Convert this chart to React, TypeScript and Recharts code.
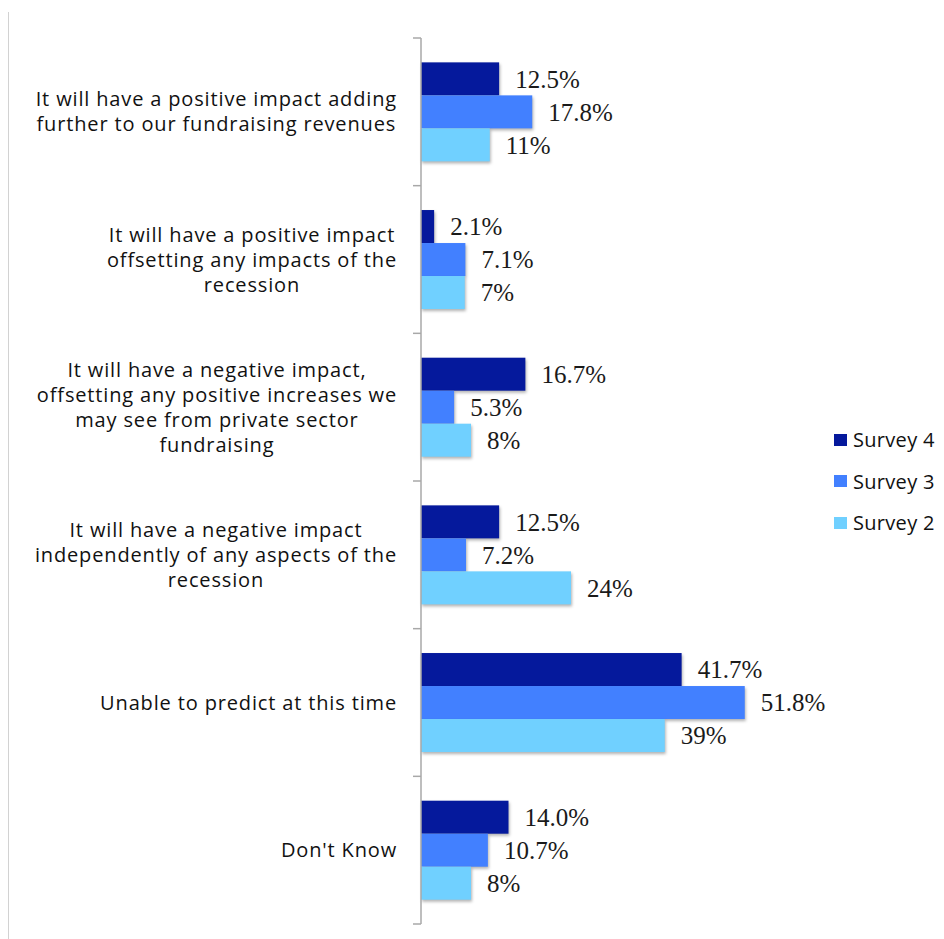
import { BarChart, Bar, XAxis, YAxis, LabelList } from 'recharts';

const categories = [
  ['It will have a positive impact adding', 'further to our fundraising revenues'],
  ['It will have a positive impact', 'offsetting any impacts of the', 'recession'],
  ['It will have a negative impact,', 'offsetting any positive increases we', 'may see from private sector', 'fundraising'],
  ['It will have a negative impact', 'independently of any aspects of the', 'recession'],
  ['Unable to predict at this time'],
  ["Don't Know"],
];
const survey4 = [12.5, 2.1, 16.7, 12.5, 41.7, 14.0];
const survey3 = [17.8, 7.1, 5.3, 7.2, 51.8, 10.7];
const survey2 = [11, 7, 8, 24, 39, 8];

const SERIES = [
  { key: 'survey4', name: 'Survey 4', color: '#05199C', digits: 1 },
  { key: 'survey3', name: 'Survey 3', color: '#4280FF', digits: 1 },
  { key: 'survey2', name: 'Survey 2', color: '#70D0FF', digits: 0 },
];

const data = categories.map((lines, i) => ({
  name: lines.join(' '),
  lines,
  survey4: survey4[i],
  survey3: survey3[i],
  survey2: survey2[i],
}));

const W = 936;
const H = 931;
const MARGIN = { top: 30, right: 148, bottom: 15, left: 0 };
const AXIS_W = 413;
const BAND = (H - MARGIN.top - MARGIN.bottom) / categories.length;
const LABEL_SIZE = 20;
const LABEL_LS = 0.85;
const AXIS_COLOR = '#a8a8a8';

let ctx: CanvasRenderingContext2D | null = null;
const measure = (s: string) => {
  if (!ctx) ctx = document.createElement('canvas').getContext('2d');
  if (!ctx) return s.length * 10;
  ctx.font = `${LABEL_SIZE}px 'Open Sans'`;
  // letter spacing added by hand
  return ctx.measureText(s).width + s.length * LABEL_LS;
};

const CategoryTick = (props: any) => {
  const { x, y, index, payload } = props;
  const lines: string[] = data[index] ? data[index].lines : [String(payload.value)];
  const maxW = Math.max(...lines.map(measure));
  const cx = x - maxW / 2;
  const lh = 25;
  const start = y - ((lines.length - 1) * lh) / 2;
  const axisX = x + 24;
  return (
    <g>
      <line x1={axisX - 8} x2={axisX} y1={y - BAND / 2} y2={y - BAND / 2} stroke={AXIS_COLOR} strokeWidth={1.5} />
      {index === categories.length - 1 && (
        <line x1={axisX - 8} x2={axisX} y1={y + BAND / 2} y2={y + BAND / 2} stroke={AXIS_COLOR} strokeWidth={1.5} />
      )}
      <text x={cx} y={start} textAnchor="middle" fontFamily="'Open Sans'" fontSize={LABEL_SIZE}
        letterSpacing={LABEL_LS} fill="#111">
        {lines.map((l, i) => (
          <tspan key={i} x={cx} y={start + i * lh} dy="0.35em">{l}</tspan>
        ))}
      </text>
    </g>
  );
};

const ShadowBar = (props: any) => {
  const { x, y, width, height, fill } = props;
  if (!width || width <= 0) return null;
  return (
    <rect x={x} y={y} width={width} height={height} fill={fill}
      style={{ filter: 'drop-shadow(1px 2px 1.5px rgba(0,0,0,0.3))' }} />
  );
};

export default function App() {
  return (
    <div style={{ position: 'relative', width: W, height: H, background: '#fff' }}>
      <div style={{ position: 'absolute', left: 0, top: 4, width: 1, height: H - 4, background: '#d2d2d2' }} />
      <BarChart width={W} height={H} data={data} layout="vertical" margin={MARGIN}
        barCategoryGap="16.5%" barGap={0}>
        <XAxis type="number" domain={[0, 60]} hide />
        <YAxis type="category" dataKey="name" width={AXIS_W} tickLine={false} tickSize={0} tickMargin={24}
          axisLine={{ stroke: AXIS_COLOR, strokeWidth: 1.5 }} tick={<CategoryTick />} interval={0} />
        {SERIES.map((s) => (
          <Bar key={s.key} dataKey={s.key} name={s.name} fill={s.color} shape={<ShadowBar />} isAnimationActive={false}>
            <LabelList dataKey={s.key} position="right" offset={16}
              formatter={(v: any) => `${Number(v).toFixed(s.digits)}%`}
              style={{ fontFamily: "'Liberation Serif', serif", fontSize: 25, fill: '#1a1a1a' }} />
          </Bar>
        ))}
      </BarChart>
      <div style={{ position: 'absolute', left: 826, top: 411, fontFamily: "'Open Sans'", fontSize: 20,
        letterSpacing: 0.3, color: '#111', whiteSpace: 'nowrap' }}>
        {SERIES.map((s) => (
          <div key={s.key} style={{ display: 'flex', alignItems: 'center', height: 41.5 }}>
            <div style={{ width: 13, height: 12, background: s.color, marginRight: 6 }} />
            <span>{s.name}</span>
          </div>
        ))}
      </div>
    </div>
  );
}
